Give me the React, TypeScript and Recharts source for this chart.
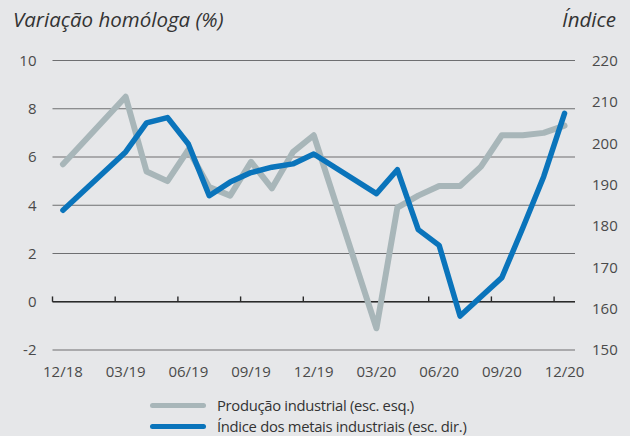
import React from 'react';
import { ComposedChart, Line, XAxis, YAxis, CartesianGrid, ReferenceLine, Legend } from 'recharts';

const months = [
  '12/18', '01/19', '02/19', '03/19', '04/19', '05/19', '06/19', '07/19', '08/19',
  '09/19', '10/19', '11/19', '12/19', '01/20', '02/20', '03/20', '04/20', '05/20',
  '06/20', '07/20', '08/20', '09/20', '10/20', '11/20', '12/20',
];
const producaoIndustrial = [
  5.7, null, null, 8.5, 5.4, 5.0, 6.3, 4.75, 4.4, 5.8, 4.7, 6.2, 6.9, null, null,
  -1.1, 3.9, 4.4, 4.8, 4.8, 5.6, 6.9, 6.9, 7.0, 7.3,
];
const metaisIndustriais = [
  183.8, null, null, 197.9, 204.9, 206.2, 199.8, 187.3, 190.6, 192.9, 194.2, 195.0, 197.4,
  null, null, 187.8, 193.6, 179.1, 175.3, 158.2, 162.9, 167.5, 179.5, 191.9, 207.2,
];
const xTickLabels = ['12/18', '03/19', '06/19', '09/19', '12/19', '03/20', '06/20', '09/20', '12/20'];
const leftTicks = [-2, 0, 2, 4, 6, 8, 10];
const rightTicks = [150, 160, 170, 180, 190, 200, 210, 220];
const seriesNames = ['Produção industrial (esc. esq.)', 'Índice dos metais industriais (esc. dir.)'];
const titleLeft = 'Variação homóloga (%)';
const titleRight = 'Índice';

const GREY = '#a8b6b9';
const BLUE = '#0a74bb';
const FONT = '"Open Sans", sans-serif';
const TEXT = '#4a4a4a';

const data = months.map((m, i) => ({
  idx: i,
  month: m,
  prod: producaoIndustrial[i],
  metals: metaisIndustriais[i],
}));
const xTicks = xTickLabels.map((l) => months.indexOf(l));
const tickMarks = xTicks.map((t) => t - 0.5);

const LegendContent = (props: any) => {
  const items = props.payload || [];
  return (
    <div style={{ fontFamily: FONT, fontSize: 14.8, color: '#333', letterSpacing: -0.3 }}>
      {items.map((it: any) => (
        <div key={it.value} style={{ display: 'flex', alignItems: 'center', height: 20.5 }}>
          <div style={{ width: 56, height: 5, borderRadius: 3, background: it.color, marginRight: 11 }} />
          <span style={{ whiteSpace: 'nowrap', lineHeight: '15px' }}>{it.value}</span>
        </div>
      ))}
    </div>
  );
};

export default function App() {
  return (
    <div style={{ position: 'absolute', left: 0, top: 0, width: 630, height: 436, background: '#e6e7e9', overflow: 'hidden' }}>
      <div style={{ position: 'absolute', left: 13, top: 5, fontFamily: FONT, fontStyle: 'italic', fontSize: 20.5, color: '#333', whiteSpace: 'nowrap' }}>
        {titleLeft}
      </div>
      <div style={{ position: 'absolute', right: 14, top: 5, fontFamily: FONT, fontStyle: 'italic', fontSize: 20.5, color: '#333', whiteSpace: 'nowrap' }}>
        {titleRight}
      </div>
      <ComposedChart width={630} height={436} data={data} margin={{ top: 60.5, right: 0, left: 0, bottom: 56 }}>
        <CartesianGrid yAxisId="left" vertical={false} horizontal stroke="#6e6f71" strokeWidth={1.2} />
        <XAxis
          dataKey="idx"
          type="number"
          domain={[-0.5, 24.5]}
          ticks={xTicks}
          tickFormatter={(v: number) => months[v]}
          axisLine={false}
          tickLine={false}
          tickSize={0}
          tickMargin={16}
          height={30}
          interval={0}
          tick={{ fontFamily: FONT, fontSize: 15, fill: TEXT }}
        />
        <YAxis
          yAxisId="left"
          orientation="left"
          domain={[-2, 10]}
          ticks={leftTicks}
          width={52.5}
          axisLine={false}
          tickLine={false}
          tickSize={0}
          tickMargin={16}
          interval={0}
          tick={{ fontFamily: FONT, fontSize: 15, fill: TEXT }}
        />
        <YAxis
          yAxisId="right"
          orientation="right"
          domain={[150, 220]}
          ticks={rightTicks}
          width={55}
          axisLine={false}
          tickLine={false}
          tickSize={0}
          tickMargin={17}
          interval={0}
          tick={{ fontFamily: FONT, fontSize: 15, fill: TEXT, textAnchor: 'start' }}
        />
        <ReferenceLine yAxisId="left" y={0} stroke="#2a2a2a" strokeWidth={1.4} />
        {tickMarks.map((b) => (
          <ReferenceLine
            key={b}
            yAxisId="left"
            segment={[{ x: b, y: 0 }, { x: b, y: 0.22 }]}
            stroke="#2a2a2a"
            strokeWidth={1.4}
            ifOverflow="visible"
          />
        ))}
        <Line
          yAxisId="left"
          dataKey="prod"
          name={seriesNames[0]}
          stroke={GREY}
          strokeWidth={6}
          dot={false}
          activeDot={false}
          connectNulls
          strokeLinejoin="round"
          strokeLinecap="round"
          isAnimationActive={false}
        />
        <Line
          yAxisId="right"
          dataKey="metals"
          name={seriesNames[1]}
          stroke={BLUE}
          strokeWidth={5.5}
          dot={false}
          activeDot={false}
          connectNulls
          strokeLinejoin="round"
          strokeLinecap="round"
          isAnimationActive={false}
        />
        <Legend
          layout="horizontal"
          verticalAlign="middle"
          align="center"
          content={<LegendContent />}
          wrapperStyle={{ position: 'absolute', left: 150, top: 395.5, width: 'auto' }}
        />
      </ComposedChart>
    </div>
  );
}
